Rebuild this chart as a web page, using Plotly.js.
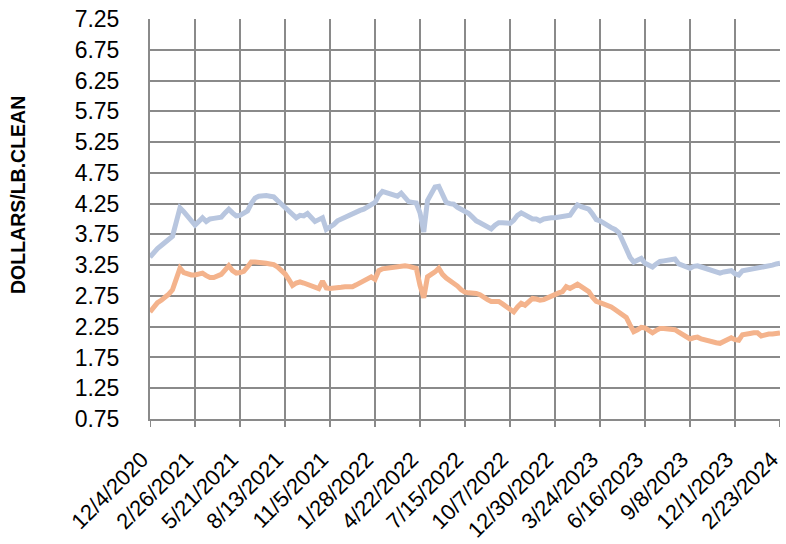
<!DOCTYPE html>
<html>
<head>
<meta charset="utf-8">
<script src="https://cdn.plot.ly/plotly-3.0.1.min.js"></script>
<style>html,body{margin:0;padding:0;background:#fff;}#chart{width:786px;height:544px;}</style>
</head>
<body>
<div id="chart"></div>
<script>
// Weekly series starting 12/4/2020 and ending 2/23/2024 (169 weeks)
const startDate = [2020, 12, 4];
const weekCount = 169;
const tickEvery = 12;

const seriesBlue = [
3.38,3.46,3.52,3.57,3.62,3.66,3.72,3.95,4.18,4.12,
4.05,3.97,3.90,3.96,4.02,3.96,4.00,4.01,4.01,4.03,
4.10,4.16,4.10,4.05,4.06,4.09,4.13,4.25,4.34,4.37,
4.38,4.38,4.37,4.36,4.30,4.24,4.19,4.14,4.06,4.02,
4.06,4.05,4.09,4.03,3.96,3.99,4.02,3.83,3.86,3.91,
3.97,4.00,4.04,4.07,4.08,4.11,4.14,4.16,4.19,4.23,
4.27,4.38,4.45,4.43,4.41,4.38,4.37,4.42,4.34,4.28,
4.27,4.26,4.10,3.79,4.30,4.42,4.52,4.53,4.40,4.27,
4.25,4.24,4.19,4.16,4.13,4.09,4.03,3.97,3.94,3.91,
3.88,3.84,3.90,3.94,3.94,3.94,3.93,3.98,4.06,4.10,
4.07,4.03,4.00,4.00,3.97,4.00,4.02,4.02,4.02,4.03,
4.03,4.05,4.06,4.15,4.23,4.20,4.17,4.16,4.08,3.99,
3.97,3.93,3.88,3.86,3.83,3.78,3.65,3.52,3.38,3.30,
3.33,3.36,3.28,3.25,3.22,3.27,3.31,3.32,3.33,3.34,
3.35,3.27,3.24,3.21,3.20,3.23,3.24,3.22,3.20,3.18,
3.14,3.12,3.12,3.14,3.15,3.16,3.11,3.09,3.16,3.17,
3.18,3.19,3.20,3.20,3.21,3.23,3.25,3.27,3.28
];

const seriesOrange = [
2.49,2.58,2.64,2.68,2.72,2.78,2.85,3.02,3.20,3.13,
3.10,3.09,3.09,3.11,3.12,3.08,3.05,3.05,3.07,3.10,
3.17,3.24,3.16,3.12,3.13,3.15,3.22,3.30,3.30,3.30,
3.29,3.28,3.27,3.26,3.22,3.16,3.11,3.02,2.92,2.96,
2.98,2.96,2.94,2.93,2.90,2.87,2.99,2.88,2.87,2.87,
2.88,2.89,2.90,2.89,2.90,2.93,2.96,2.99,3.03,3.06,
3.02,3.16,3.19,3.20,3.20,3.21,3.22,3.24,3.24,3.23,
3.22,3.20,2.92,2.72,3.06,3.09,3.14,3.20,3.10,3.04,
3.00,2.96,2.91,2.85,2.81,2.80,2.80,2.79,2.77,2.72,
2.69,2.66,2.65,2.66,2.62,2.57,2.53,2.49,2.57,2.63,
2.60,2.66,2.71,2.70,2.68,2.69,2.72,2.76,2.78,2.80,
2.82,2.90,2.87,2.91,2.94,2.90,2.86,2.82,2.73,2.66,
2.64,2.62,2.60,2.57,2.53,2.49,2.45,2.40,2.28,2.17,
2.20,2.24,2.23,2.18,2.15,2.19,2.22,2.22,2.21,2.21,
2.20,2.16,2.12,2.08,2.05,2.07,2.08,2.05,2.03,2.02,
2.00,1.99,1.98,2.01,2.05,2.07,2.04,2.03,2.12,2.14,
2.14,2.15,2.15,2.10,2.12,2.13,2.13,2.14,2.15
];

const yTicks = [0.75,1.25,1.75,2.25,2.75,3.25,3.75,4.25,4.75,5.25,5.75,6.25,6.75,7.25];
const yTitle = "DOLLARS/LB.CLEAN";

// build weekly category labels
const dates = [];
for (let i = 0; i < weekCount; i++) {
  const d = new Date(Date.UTC(startDate[0], startDate[1]-1, startDate[2] + 7*i));
  dates.push((d.getUTCMonth()+1) + "/" + d.getUTCDate() + "/" + d.getUTCFullYear());
}
const xTickVals = dates.filter((_, i) => i % tickEvery === 0);

const gridColor = "#8a8a8a";
const font = "Liberation Sans, Arial, sans-serif";
const clear = "rgba(0,0,0,0)";

const traces = [
  {x: dates, y: seriesBlue, type: "scatter", mode: "lines",
   line: {color: "#b8c6df", width: 5}, hoverinfo: "x+y"},
  {x: dates, y: seriesOrange, type: "scatter", mode: "lines",
   line: {color: "#f4b38c", width: 5}, hoverinfo: "x+y"}
];

// visible short tick marks below the x axis, at each labelled category
const tickShapes = xTickVals.map(v => ({
  type: "line", xref: "x", yref: "paper",
  x0: v, x1: v, y0: 0, y1: -8 / 400,
  line: {color: gridColor, width: 2}, layer: "below"
}));

const layout = {
  width: 786, height: 544,
  margin: {l: 150, r: 6, t: 19, b: 125, pad: 0},
  paper_bgcolor: "#ffffff", plot_bgcolor: "#ffffff",
  showlegend: false,
  font: {family: font, size: 22, color: "#000"},
  xaxis: {
    type: "category",
    range: [0, weekCount - 1],
    tickmode: "array", tickvals: xTickVals, ticktext: xTickVals,
    tickangle: -45,
    showgrid: true, gridcolor: gridColor, gridwidth: 2,
    showline: true, linecolor: gridColor, linewidth: 2,
    ticks: "outside", ticklen: 17, tickwidth: 1, tickcolor: clear,
    ticklabelshift: -8,
    tickfont: {family: font, size: 22, color: "#000"},
    zeroline: false, fixedrange: true
  },
  yaxis: {
    range: [0.75, 7.25],
    tickmode: "array", tickvals: yTicks, ticktext: yTicks.map(v => v.toFixed(2)),
    showgrid: true, gridcolor: gridColor, gridwidth: 2,
    showline: true, linecolor: gridColor, linewidth: 2,
    ticks: "outside", ticklen: 24, tickwidth: 1, tickcolor: clear,
    tickfont: {family: font, size: 23, color: "#000"},
    zeroline: false, fixedrange: true
  },
  shapes: tickShapes,
  annotations: [{
    text: "<b>" + yTitle + "</b>",
    xref: "paper", yref: "paper",
    x: (18 - 150) / 630, y: (419 - 195) / 400,
    xanchor: "center", yanchor: "middle",
    textangle: -90, showarrow: false,
    font: {family: font, size: 19.5, color: "#000"}
  }]
};

Plotly.newPlot("chart", traces, layout, {displayModeBar: false, staticPlot: true});
</script>
</body>
</html>
